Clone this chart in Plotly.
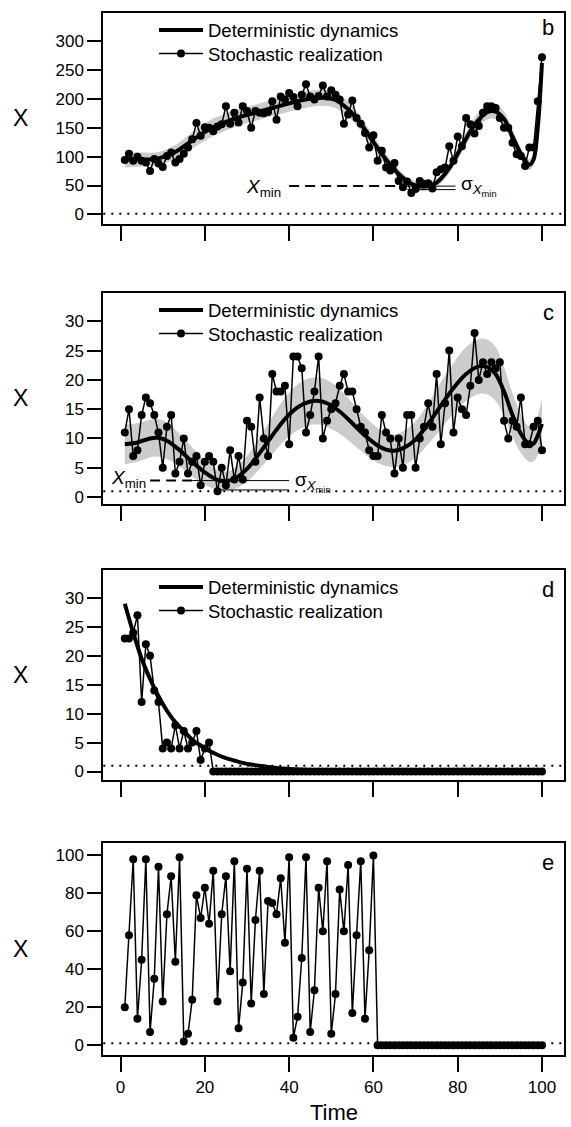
import plotly.graph_objects as go

FONT = "Liberation Sans, Arial, Helvetica, sans-serif"
W, H = 571, 1127

# ---------------- data ----------------
time = list(range(1, 101))

# panel b
stoch_b = [94, 105, 93, 100, 93, 90, 75, 96, 88, 82, 101, 107, 90, 96, 105, 116, 130, 158, 136, 151,
           150, 144, 152, 156, 187, 157, 176, 159, 187, 179, 150, 179, 176, 175, 177, 196, 164, 204, 199, 210,
           203, 187, 207, 225, 204, 199, 205, 223, 204, 215, 207, 199, 157, 173, 197, 167, 157, 141, 116, 137,
           93, 110, 81, 76, 89, 58, 47, 57, 37, 44, 58, 53, 54, 45, 73, 78, 81, 118, 93, 135,
           118, 167, 156, 140, 153, 176, 187, 187, 184, 167, 150, 150, 124, 104, 101, 84, 116, 116, 196, 272]
det_t_b = [1, 5, 9, 13, 17, 21, 25, 29, 33, 37, 41, 45, 48, 51, 54, 57, 60, 63, 66, 69, 72, 75, 78, 81,
           84, 87, 89, 91, 93, 95, 97, 98, 99, 100]
det_b = [95, 95, 97, 108, 128, 147, 160, 170, 178, 186, 194, 200, 202, 198, 182, 157, 125, 95, 70, 53,
         48, 55, 80, 118, 155, 177, 178, 165, 135, 105, 86, 95, 150, 262]
sd_b = [14, 12, 11, 12, 14, 15, 15, 14, 14, 14, 14, 14, 14, 14, 13, 12, 11, 10, 8, 7,
        7, 7, 9, 11, 12, 13, 13, 13, 12, 10, 9, 9, 10, 12]
xmin_b, sigma_b = 49, 6
xmin_b_dash = [40, 68]
xmin_b_sigma = [68, 79.5]

# panel c
stoch_c = [11, 15, 7, 8, 14, 17, 16, 14, 11, 5, 12, 14, 4, 6, 10, 4, 6, 7, 2, 6,
           7, 6, 1, 5, 2, 8, 3, 7, 3, 13, 12, 6, 17, 10, 7, 21, 18, 18, 19, 9,
           24, 24, 22, 11, 14, 18, 24, 10, 13, 15, 16, 19, 21, 18, 18, 15, 12, 11, 8, 7,
           7, 14, 11, 10, 4, 10, 5, 14, 14, 5, 10, 12, 16, 12, 21, 9, 16, 25, 11, 17,
           15, 14, 19, 28, 20, 23, 21, 23, 22, 23, 13, 10, 13, 12, 17, 9, 9, 12, 13, 8]
det_t_c = [1, 4, 7, 9, 11, 14, 17, 20, 23, 25, 27, 30, 33, 36, 39, 42, 45, 47, 49, 52, 55, 58, 61,
           63, 65, 67, 70, 73, 76, 79, 82, 85, 87, 89, 91, 93, 95, 97, 98, 99, 100]
det_c = [9.0, 9.3, 10.0, 10.1, 9.6, 8.0, 6.0, 4.2, 2.9, 2.7, 3.1, 4.8, 7.5, 10.5, 13.3, 15.3, 16.3,
         16.4, 16.0, 14.6, 12.6, 10.5, 8.8, 8.1, 7.9, 8.3, 9.8, 12.5, 15.6, 18.6, 21.0, 22.3, 22.2,
         21.0, 18.0, 14.0, 10.8, 9.0, 9.1, 10.5, 12.5]
sd_c = [3.4, 3.3, 3.2, 3.2, 3.1, 2.8, 2.5, 2.1, 1.7, 1.6, 1.8, 2.2, 2.7, 3.2, 3.6, 3.9, 4.0,
        4.0, 4.0, 3.8, 3.5, 3.2, 3.0, 2.8, 2.8, 2.9, 3.1, 3.5, 4.0, 4.3, 4.6, 4.7, 4.7,
        4.6, 4.2, 3.7, 3.3, 3.0, 3.0, 3.4, 4.3]
xmin_c, sigma_c = 2.8, 1.6
xmin_c_dash = [7, 17]
xmin_c_sigma = [17, 40]
xmin_c_sigma_low = [23, 40]

# panel d
stoch_d = [23, 23, 24, 27, 12, 22, 20, 14, 12, 4, 5, 4, 8, 4, 7, 4, 5, 7, 2, 4, 5] + [0] * 79
det_t_d = [1, 3, 5, 7, 9, 11, 13, 15, 17, 19, 21, 23, 25, 27, 29, 31, 33, 35, 40, 45, 50, 60, 70, 80, 100]
det_d = [29, 24, 19.5, 16, 13, 10.5, 8.5, 7, 5.5, 4.5, 3.6, 2.9, 2.3, 1.9, 1.5, 1.2, 1.0, 0.8,
         0.45, 0.26, 0.15, 0.05, 0.02, 0.01, 0.0]

# panel e
stoch_e = [20, 58, 98, 14, 45, 98, 7, 35, 94, 23, 69, 89, 44, 99, 2, 6, 24, 79, 67, 83,
           64, 92, 23, 69, 89, 39, 97, 9, 33, 93, 22, 66, 92, 27, 76, 75, 69, 88, 54, 99,
           4, 15, 46, 99, 7, 29, 83, 60, 97, 6, 27, 82, 60, 95, 17, 58, 97, 14, 50, 100] + [0] * 40

threshold = 1
x_ticks = [0, 20, 40, 60, 80, 100]
y_ticks_b = [0, 50, 100, 150, 200, 250, 300]
y_ticks_cd = [0, 5, 10, 15, 20, 25, 30]
y_ticks_e = [0, 20, 40, 60, 80, 100]

# ---------------- layout geometry (pixels) ----------------
x_left, x_right = 103.3, 564.3
panels = {  # top, bottom pixel of frame
    "b": (13.3, 224.3), "c": (294, 505), "d": (571.7, 781.7), "e": (845, 1058.3)}
yranges = {"b": [-16, 348], "c": [-1.14, 34.8], "d": [-1.4, 34.8], "e": [-5.4, 106.7]}
xrange_ = [-4.1, 105.3]


def py(p):
    return 1 - p / H


fig = go.Figure()
BAND = "rgb(204,204,204)"


def add_band(t, det, sd, ax):
    lo = [d - s for d, s in zip(det, sd)]
    hi = [d + s for d, s in zip(det, sd)]
    fig.add_trace(go.Scatter(x=t, y=lo, mode="lines", line=dict(width=0, shape="spline"),
                             showlegend=False, hoverinfo="skip", xaxis=ax[0], yaxis=ax[1]))
    fig.add_trace(go.Scatter(x=t, y=hi, mode="lines", line=dict(width=0, shape="spline"),
                             fill="tonexty", fillcolor=BAND, showlegend=False, hoverinfo="skip",
                             xaxis=ax[0], yaxis=ax[1]))


def add_det(t, det, ax, leg):
    fig.add_trace(go.Scatter(x=t, y=det, mode="lines", name="Deterministic dynamics",
                             line=dict(color="black", width=4, shape="spline", smoothing=0.9),
                             xaxis=ax[0], yaxis=ax[1], legend=leg, showlegend=True))


def add_stoch(y, ax, leg, show):
    fig.add_trace(go.Scatter(x=time, y=y, mode="lines+markers", name="Stochastic realization",
                             line=dict(color="black", width=1.5), marker=dict(color="black", size=8),
                             xaxis=ax[0], yaxis=ax[1], legend=leg, showlegend=show))


add_band(det_t_b, det_b, sd_b, ("x", "y"))
add_det(det_t_b, det_b, ("x", "y"), "legend")
add_stoch(stoch_b, ("x", "y"), "legend4", True)

add_band(det_t_c, det_c, sd_c, ("x2", "y2"))
add_det(det_t_c, det_c, ("x2", "y2"), "legend2")
add_stoch(stoch_c, ("x2", "y2"), "legend5", True)

add_det(det_t_d, det_d, ("x3", "y3"), "legend3")
add_stoch(stoch_d, ("x3", "y3"), "legend6", True)

add_stoch(stoch_e, ("x4", "y4"), "legend", False)

axis_common = dict(showline=True, mirror=True, linecolor="black", linewidth=2, ticks="outside",
                   ticklen=14, tickwidth=2, tickcolor="black", showgrid=False, zeroline=False,
                   tickfont=dict(family=FONT, size=17, color="black"))

layout = dict(width=W, height=H, margin=dict(l=0, r=0, t=0, b=0), plot_bgcolor="white",
              paper_bgcolor="white", font=dict(family=FONT, color="black"))

keys = ["b", "c", "d", "e"]
for i, k in enumerate(keys):
    xs = "xaxis" if i == 0 else f"xaxis{i + 1}"
    ys = "yaxis" if i == 0 else f"yaxis{i + 1}"
    ya = "y" if i == 0 else f"y{i + 1}"
    top, bot = panels[k]
    layout[xs] = dict(axis_common, domain=[x_left / W, x_right / W], range=xrange_, tickvals=x_ticks,
                      showticklabels=(k == "e"), anchor=ya, ticklen=15)
    yt = y_ticks_b if k == "b" else (y_ticks_e if k == "e" else y_ticks_cd)
    layout[ys] = dict(axis_common, domain=[py(bot), py(top)], range=yranges[k], tickvals=yt,
                      anchor="x" if i == 0 else f"x{i + 1}")

leg_common = dict(xanchor="left", yanchor="top", bgcolor="rgba(0,0,0,0)", itemwidth=44,
                  font=dict(family=FONT, size=18.5, color="black"), traceorder="normal",
                  tracegroupgap=0, borderwidth=0)
leg_x = 154 / W
row1, row2 = -1.7, 21.8
layout["legend"] = dict(leg_common, x=leg_x, y=py(panels["b"][0] + row1))
layout["legend4"] = dict(leg_common, x=leg_x, y=py(panels["b"][0] + row2))
layout["legend2"] = dict(leg_common, x=leg_x, y=py(panels["c"][0] + row1))
layout["legend5"] = dict(leg_common, x=leg_x, y=py(panels["c"][0] + row2))
layout["legend3"] = dict(leg_common, x=leg_x, y=py(panels["d"][0] + row1))
layout["legend6"] = dict(leg_common, x=leg_x, y=py(panels["d"][0] + row2))

fig.update_layout(**layout)

# threshold dotted lines
shapes = []
for i, k in enumerate(keys):
    ya = "y" if i == 0 else f"y{i + 1}"
    xa = "x" if i == 0 else f"x{i + 1}"
    shapes.append(dict(type="line", xref=f"{xa} domain", yref=ya, x0=0, x1=1, y0=threshold,
                       y1=threshold, line=dict(color="black", width=2, dash="2px,6px"), layer="below"))

# Xmin markers
shapes.append(dict(type="line", xref="x", yref="y", x0=xmin_b_dash[0], x1=xmin_b_dash[1], y0=xmin_b,
                   y1=xmin_b, line=dict(color="black", width=2, dash="10px,6px")))
shapes.append(dict(type="line", xref="x", yref="y", x0=xmin_b_sigma[0], x1=xmin_b_sigma[1], y0=xmin_b,
                   y1=xmin_b, line=dict(color="black", width=1)))
shapes.append(dict(type="line", xref="x", yref="y", x0=xmin_b_sigma[0], x1=xmin_b_sigma[1],
                   y0=xmin_b - sigma_b, y1=xmin_b - sigma_b, line=dict(color="black", width=1)))
shapes.append(dict(type="line", xref="x2", yref="y2", x0=xmin_c_dash[0], x1=xmin_c_dash[1], y0=xmin_c,
                   y1=xmin_c, line=dict(color="black", width=2, dash="10px,6px")))
shapes.append(dict(type="line", xref="x2", yref="y2", x0=xmin_c_sigma[0], x1=xmin_c_sigma[1],
                   y0=xmin_c, y1=xmin_c, line=dict(color="black", width=1)))
shapes.append(dict(type="line", xref="x2", yref="y2", x0=xmin_c_sigma_low[0], x1=xmin_c_sigma_low[1],
                   y0=xmin_c - sigma_c, y1=xmin_c - sigma_c, line=dict(color="black", width=1)))
fig.update_layout(shapes=shapes)

ann = []
letters = {"b": 28, "c": 313, "d": 591, "e": 865}
for k, yp in letters.items():
    ann.append(dict(text=k, x=556 / W, y=py(yp), xref="paper", yref="paper", xanchor="right",
                    yanchor="middle", showarrow=False, font=dict(family=FONT, size=22, color="black")))
for k in keys:
    top, bot = panels[k]
    ann.append(dict(text="X", x=20 / W, y=py((top + bot) / 2), xref="paper", yref="paper",
                    xanchor="center", yanchor="middle", showarrow=False,
                    font=dict(family=FONT, size=23, color="black")))
ann.append(dict(text="Time", x=333.8 / W, y=py(1115), xref="paper", yref="paper", xanchor="center",
                yanchor="middle", showarrow=False, font=dict(family=FONT, size=22, color="black")))
xmin_txt = "<i>X</i><sub>min</sub>"
sig_txt = "σ<sub><i>X</i><sub>min</sub></sub>"
ann.append(dict(text=xmin_txt, x=38.5, y=xmin_b - 3, xref="x", yref="y", xanchor="right",
                yanchor="middle", showarrow=False, font=dict(family=FONT, size=19, color="black")))
ann.append(dict(text=sig_txt, x=80.3, y=xmin_b, xref="x", yref="y", xanchor="left",
                yanchor="middle", showarrow=False, font=dict(family=FONT, size=19, color="black")))
ann.append(dict(text=xmin_txt, x=6.5, y=xmin_c + 0.3, xref="x2", yref="y2", xanchor="right",
                yanchor="middle", showarrow=False, font=dict(family=FONT, size=19, color="black")))
ann.append(dict(text=sig_txt, x=41, y=xmin_c - 0.2, xref="x2", yref="y2", xanchor="left",
                yanchor="middle", showarrow=False, font=dict(family=FONT, size=19, color="black")))
fig.update_layout(annotations=ann)

fig.write_html("out.html")
